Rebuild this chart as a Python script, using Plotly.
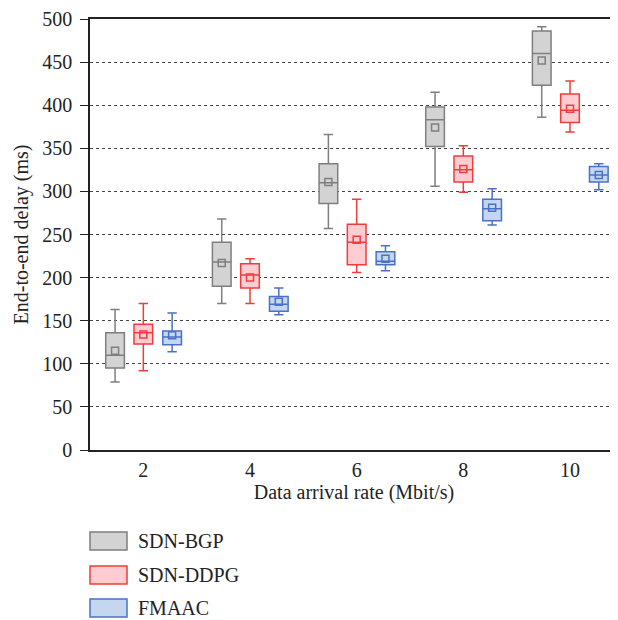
import plotly.graph_objects as go

# ---- data ----
rates = [2, 4, 6, 8, 10]
tick_labels = ["2", "4", "6", "8", "10"]
series_names = ["SDN-BGP", "SDN-DDPG", "FMAAC"]

bgp_lower = [79, 170, 257, 306, 386]
bgp_q1 = [95, 190, 286, 352, 423]
bgp_median = [110, 218, 310, 383, 460]
bgp_q3 = [136, 241, 332, 398, 486]
bgp_upper = [163, 268, 366, 415, 491]
bgp_mean = [115, 217, 311, 374, 452]

ddpg_lower = [92, 170, 206, 299, 369]
ddpg_q1 = [123, 188, 215, 311, 380]
ddpg_median = [136, 203, 241, 325, 394]
ddpg_q3 = [146, 216, 262, 341, 413]
ddpg_upper = [170, 222, 291, 353, 428]
ddpg_mean = [134, 200, 244, 326, 396]

fmaac_lower = [114, 157, 208, 261, 302]
fmaac_q1 = [122, 161, 215, 266, 311]
fmaac_median = [131, 169, 219, 280, 319]
fmaac_q3 = [138, 178, 230, 291, 329]
fmaac_upper = [159, 188, 237, 303, 332]
fmaac_mean = [133, 172, 222, 281, 319]

# ---- style ----
PAD = 8  # default page body margin
W, H = 618 - PAD, 620 - PAD
ML, MR, MT = 90 - PAD, 0, 19 - PAD
MB = H - (450 - PAD)
FONT = "Liberation Serif"
FS = 20
TXT = "#222222"
line_colors = ["#7f7f7f", "#f03c3c", "#4a72c4"]
fill_colors = ["#d3d3d3", "#ffcdd1", "#c5d7f0"]
offsets = [-0.53, 0.0, 0.54]

stats = [
    (bgp_lower, bgp_q1, bgp_median, bgp_q3, bgp_upper, bgp_mean),
    (ddpg_lower, ddpg_q1, ddpg_median, ddpg_q3, ddpg_upper, ddpg_mean),
    (fmaac_lower, fmaac_q1, fmaac_median, fmaac_q3, fmaac_upper, fmaac_mean),
]

fig = go.Figure()
for i, (lo, q1, med, q3, up, mean) in enumerate(stats):
    xs = [r + offsets[i] for r in rates]
    fig.add_trace(go.Box(
        x=xs, lowerfence=lo, q1=q1, median=med, q3=q3, upperfence=up,
        name=series_names[i], width=0.35, whiskerwidth=0.5,
        line=dict(color=line_colors[i], width=1.5),
        fillcolor=fill_colors[i], boxpoints=False, showlegend=False,
    ))
    fig.add_trace(go.Scatter(
        x=xs, y=mean, mode="markers", showlegend=False,
        marker=dict(symbol="square-open", size=7, color=line_colors[i],
                    line=dict(width=1.5, color=line_colors[i])),
    ))

pw = W - ML - MR
ph = H - MT - MB


def px_x(p):
    # p: page pixel
    return (p - PAD - ML) / pw


def px_y(p):
    return (H - MB - (p - PAD)) / ph


# manual legend
shapes = []
annotations = []
legend_rows = [541, 575, 608]
for i, name in enumerate(series_names):
    yc = legend_rows[i]
    shapes.append(dict(type="rect", xref="paper", yref="paper",
                       x0=px_x(90), x1=px_x(127), y0=px_y(yc - 9), y1=px_y(yc + 9),
                       line=dict(color=line_colors[i], width=1.5),
                       fillcolor=fill_colors[i]))
    annotations.append(dict(xref="paper", yref="paper", x=px_x(136), y=px_y(yc),
                            text=name, showarrow=False, xanchor="left", yanchor="middle",
                            font=dict(family=FONT, size=FS, color=TXT)))

fig.update_layout(
    width=W, height=H,
    margin=dict(l=ML, r=MR, t=MT, b=MB),
    paper_bgcolor="white", plot_bgcolor="white",
    font=dict(family=FONT, size=FS, color=TXT),
    shapes=shapes, annotations=annotations,
)
fig.update_xaxes(
    range=[1.0, 10.9], tickvals=rates, ticktext=tick_labels,
    showgrid=False, zeroline=False, ticks="",
    showline=True, linecolor="#222222", linewidth=1.5, mirror=True,
    tickfont=dict(family=FONT, size=FS, color=TXT),
    ticklabelstandoff=1,
    title=dict(text="Data arrival rate (Mbit/s)", standoff=3,
               font=dict(family=FONT, size=FS, color=TXT)),
)
fig.update_yaxes(
    range=[0, 500], dtick=50, tick0=0,
    showgrid=True, gridcolor="#444444", gridwidth=1, griddash="3px,3px",
    zeroline=False, ticks="outside", ticklen=8, tickwidth=1.2, tickcolor="#222222",
    showline=True, linecolor="#222222", linewidth=1.5,
    tickfont=dict(family=FONT, size=FS, color=TXT),
    ticklabelstandoff=4,
    title=dict(text="End-to-end delay (ms)", standoff=8,
               font=dict(family=FONT, size=FS, color=TXT)),
)

fig.write_html(
    "out.html",
    post_script="document.documentElement.style.overflow='hidden';document.body.style.overflow='hidden';",
)
